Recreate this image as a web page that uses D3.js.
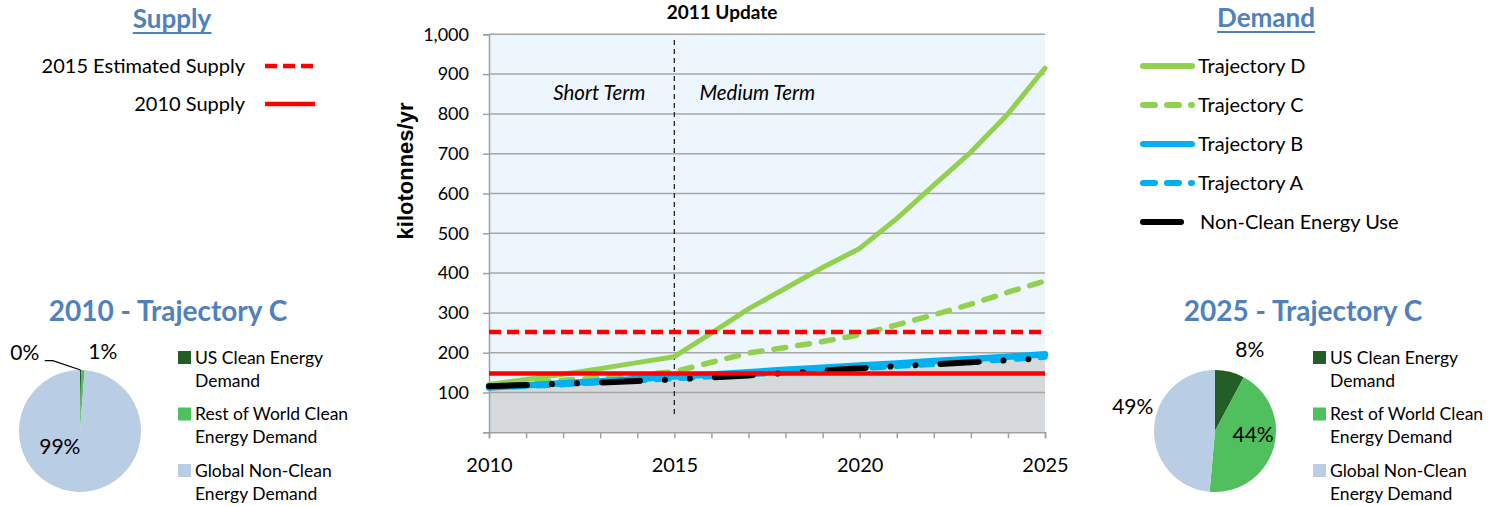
<!DOCTYPE html>
<html>
<head>
<meta charset="utf-8">
<script src="https://d3js.org/d3.v7.min.js"></script>
<style>
  body { margin: 0; background: #fff; }
  svg { display: block; font-family: Lato, "Open Sans", sans-serif; }
</style>
</head>
<body>
<script>
// ---- data ----
var years = [2010, 2011, 2012, 2013, 2014, 2015, 2016, 2017, 2018, 2019, 2020, 2021, 2022, 2023, 2024, 2025];
var yearLabels = [2010, 2015, 2020, 2025];
var yTicks = [100, 200, 300, 400, 500, 600, 700, 800, 900, 1000];

var trajD = [120, 133, 146, 160, 175, 190, 249, 310, 362, 414, 462, 537, 621, 704, 800, 915];
var trajC = [118, 124, 131, 137, 144, 152, 176, 199, 213, 228, 245, 270, 295, 322, 352, 380];
var trajB = [113, 118, 123, 128, 134, 140, 145, 151, 157, 162, 168, 173, 179, 184, 190, 196];
var trajA = [112, 116, 120, 125, 130, 135, 140, 145, 150, 155, 160, 166, 171, 177, 183, 189];
var nonClean = [116, 119, 122, 125, 129, 133, 138, 143, 149, 155, 161, 166, 171, 176, 181, 186];

var supply2015 = 252;
var supply2010 = 148;

var pieLegend = [["US Clean Energy", "Demand"], ["Rest of World Clean", "Energy Demand"], ["Global Non-Clean", "Energy Demand"]];
var pie2010 = [0.3, 0.9, 98.8];
var pie2025 = [7.8, 43.6, 48.6];
var pieColors = ["#235E27", "#50C05E", "#B9CDE5"];

var blueText = "#4F81BD";

var svg = d3.select("body").append("svg")
  .attr("width", 1501)
  .attr("height", 506);

// ---- main chart ----
var x = d3.scaleLinear().domain([2010, 2025]).range([489, 1045]);
var y = d3.scaleLinear().domain([0, 1000]).range([432.3, 34.3]);

svg.append("rect")
  .attr("x", x(2010)).attr("y", y(1000))
  .attr("width", x(2025) - x(2010)).attr("height", y(0) - y(1000))
  .attr("fill", "#EEF6FD");

svg.append("path")
  .datum(trajB)
  .attr("fill", "#D5D9DC")
  .attr("d", d3.area()
    .x(function(d, i) { return x(years[i]); })
    .y0(y(0))
    .y1(function(d) { return y(d); }));

svg.append("g").selectAll("line")
  .data(yTicks)
  .join("line")
  .attr("x1", x(2010)).attr("x2", x(2025))
  .attr("y1", function(d) { return y(d); })
  .attr("y2", function(d) { return y(d); })
  .attr("stroke", "#A6A6A6")
  .attr("stroke-width", 1.5);

var yAxis = svg.append("g")
  .attr("transform", "translate(" + x(2010) + ",0)")
  .call(d3.axisLeft(y).tickValues([0].concat(yTicks)).tickSize(6).tickPadding(14)
    .tickFormat(function(d) { return d === 0 ? "" : d3.format(",")(d); }));
yAxis.select(".domain").attr("stroke", "#A0A0A0").attr("stroke-width", 1.5);
yAxis.selectAll(".tick line").attr("stroke", "#A0A0A0").attr("stroke-width", 1.5);
yAxis.selectAll("text").attr("font-family", "Lato").attr("font-size", 18).attr("fill", "#000");

var xAxis = svg.append("g")
  .attr("transform", "translate(0," + y(0) + ")")
  .call(d3.axisBottom(x).tickValues(years).tickSize(6).tickPadding(20)
    .tickFormat(function(d) { return yearLabels.indexOf(d) >= 0 ? d : ""; }));
xAxis.select(".domain").attr("stroke", "#A0A0A0").attr("stroke-width", 1.5);
xAxis.selectAll(".tick line").attr("stroke", "#A0A0A0").attr("stroke-width", 1.5);
xAxis.selectAll("text").attr("font-family", "Lato").attr("font-size", 20).attr("fill", "#000");

// divider short / medium term
svg.append("line")
  .attr("x1", x(2015)).attr("x2", x(2015))
  .attr("y1", 40).attr("y2", 418)
  .attr("stroke", "#222")
  .attr("stroke-width", 1.3)
  .attr("stroke-dasharray", "5,4");

svg.append("text")
  .attr("x", x(2015) - 75).attr("y", 100)
  .attr("text-anchor", "middle")
  .attr("font-style", "italic").attr("font-size", 20.5)
  .text("Short Term");

svg.append("text")
  .attr("x", x(2015) + 83).attr("y", 100)
  .attr("text-anchor", "middle")
  .attr("font-style", "italic").attr("font-size", 20.5)
  .text("Medium Term");

var demand = [
  {name: "Trajectory D", values: trajD, color: "#92D050", dash: null, width: 5, cap: "round"},
  {name: "Trajectory C", values: trajC, color: "#92D050", dash: "12,12", width: 5.5, cap: "round"},
  {name: "Trajectory B", values: trajB, color: "#00B0F0", dash: null, width: 6.5, cap: "round"},
  {name: "Trajectory A", values: trajA, color: "#00B0F0", dash: "12,12", width: 5.5, cap: "round"},
  {name: "Non-Clean Energy Use", values: nonClean, color: "#000", dash: "38,25,0.01,25,0.01,25", width: 6, cap: "round"}
];

var line = d3.line()
  .x(function(d, i) { return x(years[i]); })
  .y(function(d) { return y(d); });

svg.append("g").selectAll("path")
  .data(demand)
  .join("path")
  .attr("d", function(d) { return line(d.values); })
  .attr("fill", "none")
  .attr("stroke", function(d) { return d.color; })
  .attr("stroke-width", function(d) { return d.width; })
  .attr("stroke-dasharray", function(d) { return d.dash; })
  .attr("stroke-linecap", function(d) { return d.cap; })
  .attr("stroke-linejoin", "round");

var supply = [
  {name: "2015 Estimated Supply", value: supply2015, dash: "12,6"},
  {name: "2010 Supply", value: supply2010, dash: null}
];

svg.append("g").selectAll("line")
  .data(supply)
  .join("line")
  .attr("x1", x(2010)).attr("x2", x(2025))
  .attr("y1", function(d) { return y(d.value); })
  .attr("y2", function(d) { return y(d.value); })
  .attr("stroke", "#FF0000")
  .attr("stroke-width", 4.5)
  .attr("stroke-dasharray", function(d) { return d.dash; });

svg.append("text")
  .attr("x", 722).attr("y", 19)
  .attr("text-anchor", "middle")
  .attr("font-weight", "bold").attr("font-size", 19)
  .text("2011 Update");

svg.append("text")
  .attr("transform", "translate(413,171) rotate(-90)")
  .attr("text-anchor", "middle")
  .attr("font-family", "Liberation Sans")
  .attr("font-weight", "bold").attr("font-size", 22)
  .text("kilotonnes/yr");

// ---- legends ----
function heading(cx, baseline, label) {
  var t = svg.append("text")
    .attr("x", cx).attr("y", baseline)
    .attr("text-anchor", "middle")
    .attr("font-weight", "bold").attr("font-size", 26)
    .attr("fill", blueText)
    .text(label);
  var b = t.node().getBBox();
  svg.append("line")
    .attr("x1", b.x).attr("x2", b.x + b.width)
    .attr("y1", baseline + 5).attr("y2", baseline + 5)
    .attr("stroke", blueText).attr("stroke-width", 2);
}

heading(172, 28, "Supply");
heading(1266, 27, "Demand");

var supplyRow = d3.scaleLinear().domain([0, 1]).range([66, 104]);
var sLeg = svg.append("g").selectAll("g")
  .data(supply)
  .join("g")
  .attr("transform", function(d, i) { return "translate(0," + supplyRow(i) + ")"; });
sLeg.append("text")
  .attr("x", 245).attr("dy", "0.36em")
  .attr("text-anchor", "end")
  .attr("font-size", 20)
  .text(function(d) { return d.name; });
sLeg.append("line")
  .attr("x1", 265).attr("x2", 315)
  .attr("stroke", "#FF0000").attr("stroke-width", 4.5)
  .attr("stroke-dasharray", function(d) { return d.dash; });

var demandRow = d3.scaleLinear().domain([0, 4]).range([66, 222]);
var dLeg = svg.append("g").selectAll("g")
  .data(demand)
  .join("g")
  .attr("transform", function(d, i) { return "translate(0," + demandRow(i) + ")"; });
dLeg.append("line")
  .attr("x1", 1143)
  .attr("x2", function(d, i) { return i === 4 ? 1185 : 1192; })
  .attr("stroke", function(d) { return d.color; })
  .attr("stroke-width", 6)
  .attr("stroke-linecap", "round")
  .attr("stroke-dasharray", function(d) { return d.dash; });
dLeg.append("text")
  .attr("x", function(d, i) { return i === 4 ? 1200 : 1198; })
  .attr("dy", "0.36em")
  .attr("font-size", 20)
  .text(function(d) { return d.name; });

// ---- pies ----
function drawPie(cx, cy, title, values, layout, leader) {
  var r = 61;
  var total = d3.sum(values);
  var arcs = d3.pie().sort(null).value(function(d) { return d; })(values);
  var arc = d3.arc().innerRadius(0).outerRadius(r);

  var g = svg.append("g").attr("transform", "translate(" + cx + "," + cy + ")");

  svg.append("text")
    .attr("x", cx + 88).attr("y", 321)
    .attr("text-anchor", "middle")
    .attr("font-weight", "bold").attr("font-size", 28)
    .attr("fill", blueText)
    .text(title);

  g.selectAll("path")
    .data(arcs)
    .join("path")
    .attr("d", arc)
    .attr("fill", function(d, i) { return pieColors[i]; });

  g.selectAll("text")
    .data(arcs)
    .join("text")
    .attr("transform", function(d, i) {
      var L = layout[i];
      var c = d3.arc().innerRadius(r * L.k).outerRadius(r * L.k).centroid(d);
      return "translate(" + (c[0] + L.dx) + "," + (c[1] + L.dy) + ")";
    })
    .attr("text-anchor", "middle")
    .attr("dy", "0.36em")
    .attr("font-size", 21)
    .text(function(d) { return d3.format(".0%")(d.value / total); });

  if (leader !== null) {
    var d = arcs[leader];
    var L = layout[leader];
    var c = d3.arc().innerRadius(r * L.k).outerRadius(r * L.k).centroid(d);
    var p = d3.arc().innerRadius(r).outerRadius(r).centroid(d);
    var lx = c[0] + L.dx, ly = c[1] + L.dy;
    g.append("polyline")
      .attr("points", [[lx + 20, ly + 8], [lx + 28, ly + 8], p].join(" "))
      .attr("fill", "none")
      .attr("stroke", "#000")
      .attr("stroke-width", 1.3);
  }

  var row = d3.scaleLinear().domain([0, 2]).range([cy - 73.5, cy + 39.5]);
  var leg = svg.append("g").selectAll("g")
    .data(pieLegend)
    .join("g")
    .attr("transform", function(d, i) { return "translate(" + (cx + 98) + "," + row(i) + ")"; });
  leg.append("rect")
    .attr("x", 0).attr("y", -6.5)
    .attr("width", 13).attr("height", 13)
    .attr("fill", function(d, i) { return pieColors[i]; });
  leg.append("text")
    .attr("x", 17)
    .attr("font-size", 17.5)
    .selectAll("tspan")
    .data(function(d) { return d; })
    .join("tspan")
    .attr("x", 17)
    .attr("y", function(d, j) { return j * 23; })
    .attr("dy", "0.36em")
    .text(function(d) { return d; });
}

drawPie(80, 431, "2010 - Trajectory C", pie2010,
  [{k: 1.3, dx: -56, dy: 1}, {k: 1.3, dx: 19, dy: 0}, {k: 0.5, dx: -19, dy: -15}], 0);
drawPie(1215, 431, "2025 - Trajectory C", pie2025,
  [{k: 1.4, dx: 14, dy: 1}, {k: 0.6, dx: 3, dy: -7}, {k: 1.35, dx: 0, dy: -21}], null);
</script>
</body>
</html>
